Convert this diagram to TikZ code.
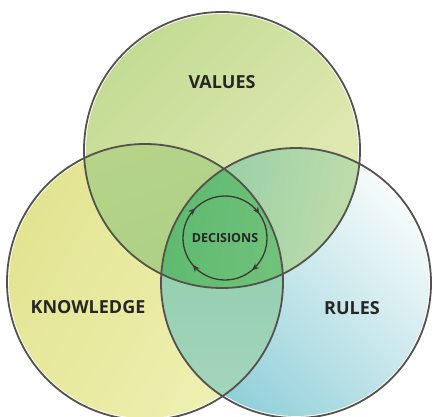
\documentclass[tikz,border=0pt]{standalone}
\usepackage{fontspec}
\setsansfont{Open Sans}
\usetikzlibrary{arrows.meta, decorations.markings}

\definecolor{ringgray}{HTML}{55524D}
\definecolor{valgreen}{HTML}{C3DC94}
\definecolor{valpale}{HTML}{E6EBB8}
\definecolor{knowpale}{HTML}{EEF1B3}
\definecolor{knowyellow}{HTML}{E3E492}
\definecolor{ruleteal}{HTML}{8FCFD8}
\definecolor{rulewhite}{HTML}{F7FBFB}
\definecolor{vkgreen}{HTML}{B6D489}
\definecolor{vkdeep}{HTML}{A4CD80}
\definecolor{vrteal}{HTML}{8ECCA6}
\definecolor{vrpale}{HTML}{D9E4AC}
\definecolor{krteal}{HTML}{88C9A4}
\definecolor{krpale}{HTML}{A6D6BF}
\definecolor{midgreen}{HTML}{8ACB88}
\definecolor{middeep}{HTML}{5FBA70}

\begin{document}
\begin{tikzpicture}[
    x=1pt, y=1pt,
    ring/.style={draw=ringgray, line width=1.8pt},
    title/.style={font=\sffamily\bfseries\fontsize{18}{18}\selectfont, text=black!85},
    small/.style={font=\sffamily\bfseries\fontsize{12.5}{12.5}\selectfont, text=black!85},
    cycle/.style={draw=ringgray!70!black, line width=1.3pt,
      decoration={markings,
        mark=at position 0.139 with {\arrow{Stealth[length=7pt,width=6pt]}},
        mark=at position 0.389 with {\arrow{Stealth[length=7pt,width=6pt]}},
        mark=at position 0.625 with {\arrow{Stealth[length=7pt,width=6pt]}},
        mark=at position 0.903 with {\arrow{Stealth[length=7pt,width=6pt]}}},
      postaction={decorate}}
]
\useasboundingbox[fill=white] (0,0) rectangle (435,416);

% circle centres
\coordinate (v) at (222,266);
\coordinate (k) at (145,134);
\coordinate (r) at (296,133);
\coordinate (d) at (225,178);

% single washes
\shade[top color=valgreen, bottom color=valpale, shading angle=45] (v) circle (136);
\shade[top color=knowyellow, bottom color=knowpale, shading angle=60] (k) circle (136);
\shade[top color=ruleteal, bottom color=rulewhite, shading angle=135] (r) circle (133);

% overlaps
\begin{scope}
  \clip (v) circle (138);
  \shade[top color=vkgreen, bottom color=vkdeep, shading angle=20] (k) circle (138);
\end{scope}
\begin{scope}
  \clip (v) circle (138);
  \shade[top color=vrteal, bottom color=vrpale, shading angle=80] (r) circle (135);
\end{scope}
\begin{scope}
  \clip (k) circle (138);
  \shade[top color=krteal, bottom color=krpale] (r) circle (135);
\end{scope}
\begin{scope}
  \clip (v) circle (138);
  \clip (k) circle (138);
  \shade[top color=middeep, bottom color=midgreen, shading angle=80] (r) circle (135);
\end{scope}

% outlines
\draw[ring] (v) circle (138);
\draw[ring] (k) circle (138);
\draw[ring] (r) circle (135);

% decision cycle, clockwise
\draw[cycle] (d) ++(0:42) arc[start angle=360, end angle=0, radius=42];

\node[title] (values)    at (222,334) {VALUES};
\node[title] (knowledge) at (88,109)  {KNOWLEDGE};
\node[title] (rules)     at (352,108) {RULES};
\node[small] (decisions) at (d)       {DECISIONS};
\end{tikzpicture}
\end{document}
